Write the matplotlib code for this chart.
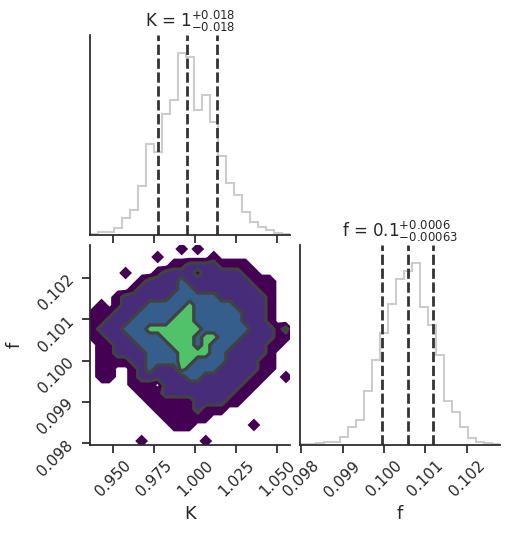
import numpy as np
import matplotlib
matplotlib.use("Agg")
import matplotlib.pyplot as plt

# ---------------- data ----------------
param_names = ["K", "f"]
K_range = (0.93567, 1.05793)
f_range = (0.09796, 0.10280)

# 1-D marginal histograms (25 bins over each range)
K_counts = [5, 17, 17, 33, 83, 125, 245, 458, 417, 608, 678, 912, 895,
            628, 700, 567, 395, 262, 200, 117, 67, 42, 25, 8, 5]
f_counts = [3, 3, 8, 13, 13, 42, 92, 125, 272, 428, 563, 705, 833,
            872, 912, 692, 603, 450, 222, 165, 88, 35, 13, 8, 5]

# quantiles (16%, 50%, 84%)
K_quantiles = [0.97744, 0.99512, 1.01341]
f_quantiles = [0.09995, 0.100578, 0.10118]

titles = [r"K = $1^{+0.018}_{-0.018}$", r"f = $0.1^{+0.0006}_{-0.00063}$"]

K_ticks = [0.950, 0.975, 1.000, 1.025, 1.050]
K_ticklabels = ["0.950", "0.975", "1.000", "1.025", "1.050"]
f_ticks = [0.098, 0.099, 0.100, 0.101, 0.102]
f_ticklabels = ["0.098", "0.099", "0.100", "0.101", "0.102"]

# 2-D density level per bin (0 = empty, 1..4 = increasing density),
# rows from top (high f) to bottom (low f), columns from low K to high K
density_rows = [
    "0000000000010100000000000",
    "0000000010000001000000000",
    "0000000000112222111100000",
    "0000100012222122222110000",
    "0000001222232222222211100",
    "0000012222233222222221100",
    "0001222222333333222222100",
    "0101222333334333332222100",
    "1112223333344333333222100",
    "1122233333444333333222100",
    "1222333444444433333322212",
    "1122233334444344333222211",
    "0112223333444343332222110",
    "0112222333344443322222100",
    "0111122333344333322221100",
    "0110012322243333222221100",
    "0110012222223322222211001",
    "0000011102222222222110000",
    "0000001112222222221100000",
    "0000000111111222211000000",
    "0000000011111211100000000",
    "0000000001111110000000000",
    "0000000000111000000010000",
    "0000000000000000000000000",
    "0000001000000010000000000",
]
fill_colors = ["#440154", "#472c7a", "#355e8d", "#4fc26a"]

# ---------------- style ----------------
TXT = "#262626"
plt.rcParams.update({
    "font.family": ["DejaVu Sans"],
    "axes.edgecolor": TXT,
    "axes.linewidth": 1.25,
    "xtick.color": TXT,
    "ytick.color": TXT,
    "xtick.labelcolor": TXT,
    "ytick.labelcolor": TXT,
    "xtick.major.size": 6,
    "ytick.major.size": 6,
    "xtick.major.width": 1.25,
    "ytick.major.width": 1.25,
    "xtick.labelsize": 11,
    "ytick.labelsize": 11,
    "text.color": TXT,
    "axes.labelcolor": TXT,
})

W, H = 509, 534
fig = plt.figure(figsize=(W / 100, H / 100), dpi=100)


def px_axes(x0, y0, x1, y1):
    return fig.add_axes([x0 / W, 1 - y1 / H, (x1 - x0) / W, (y1 - y0) / H])


ax_K = px_axes(89.5, 35, 290, 235)
ax_2d = px_axes(89.5, 245, 290, 445)
ax_f = px_axes(299.5, 245, 500, 445)

for ax in (ax_K, ax_2d, ax_f):
    ax.spines["top"].set_visible(False)
    ax.spines["right"].set_visible(False)
    ax.set_facecolor("white")

nb = len(K_counts)
K_edges = np.linspace(K_range[0], K_range[1], nb + 1)
f_edges = np.linspace(f_range[0], f_range[1], nb + 1)

hist_color = "#cccccc"
q_style = dict(color="#333333", lw=2.0, linestyle=(0, (3.7, 1.3)))

# --- marginal K ---
ax_K.hist(K_edges[:-1], bins=K_edges, weights=K_counts, histtype="step",
          color=hist_color, lw=1.5)
for q in K_quantiles:
    ax_K.axvline(q, **q_style)
ax_K.set_xlim(K_range)
ax_K.set_ylim(0, 1.1 * max(K_counts))
ax_K.set_yticks([])
ax_K.set_xticks(K_ticks)
ax_K.set_xticklabels([])
ax_K.set_title(titles[0], fontsize=12, color=TXT)

# --- marginal f ---
ax_f.hist(f_edges[:-1], bins=f_edges, weights=f_counts, histtype="step",
          color=hist_color, lw=1.5)
for q in f_quantiles:
    ax_f.axvline(q, **q_style)
ax_f.set_xlim(f_range)
ax_f.set_ylim(0, 1.1 * max(f_counts))
ax_f.set_yticks([])
ax_f.set_xticks(f_ticks)
ax_f.set_xticklabels(f_ticklabels, rotation=45)
ax_f.set_title(titles[1], fontsize=12, color=TXT)
ax_f.set_xlabel(param_names[1], fontsize=13)
ax_f.xaxis.set_label_coords(0.5, -0.3)

# --- 2-D density ---
Z = np.array([[int(c) for c in row] for row in density_rows], float)[::-1]
Zp = np.pad(Z, 1)
dK = K_edges[1] - K_edges[0]
df = f_edges[1] - f_edges[0]
xc = np.concatenate([[K_edges[0] - dK / 2], (K_edges[:-1] + K_edges[1:]) / 2,
                     [K_edges[-1] + dK / 2]])
yc = np.concatenate([[f_edges[0] - df / 2], (f_edges[:-1] + f_edges[1:]) / 2,
                     [f_edges[-1] + df / 2]])
ax_2d.contourf(xc, yc, Zp, levels=[0.2, 1.5, 2.5, 3.5, 4.5],
               colors=fill_colors, antialiased=True)
ax_2d.contour(xc, yc, Zp, levels=[1.5, 2.5, 3.5], colors="#424242",
              linewidths=2.3)
ax_2d.set_xlim(K_range)
ax_2d.set_ylim(f_range)
ax_2d.set_xticks(K_ticks)
ax_2d.set_xticklabels(K_ticklabels, rotation=45)
ax_2d.set_yticks(f_ticks)
ax_2d.set_yticklabels(f_ticklabels, rotation=45)
ax_2d.set_xlabel(param_names[0], fontsize=13)
ax_2d.set_ylabel(param_names[1], fontsize=13)
ax_2d.xaxis.set_label_coords(0.5, -0.3)
ax_2d.yaxis.set_label_coords(-0.33, 0.5)

fig.savefig("out.png", dpi=100, facecolor="white")
